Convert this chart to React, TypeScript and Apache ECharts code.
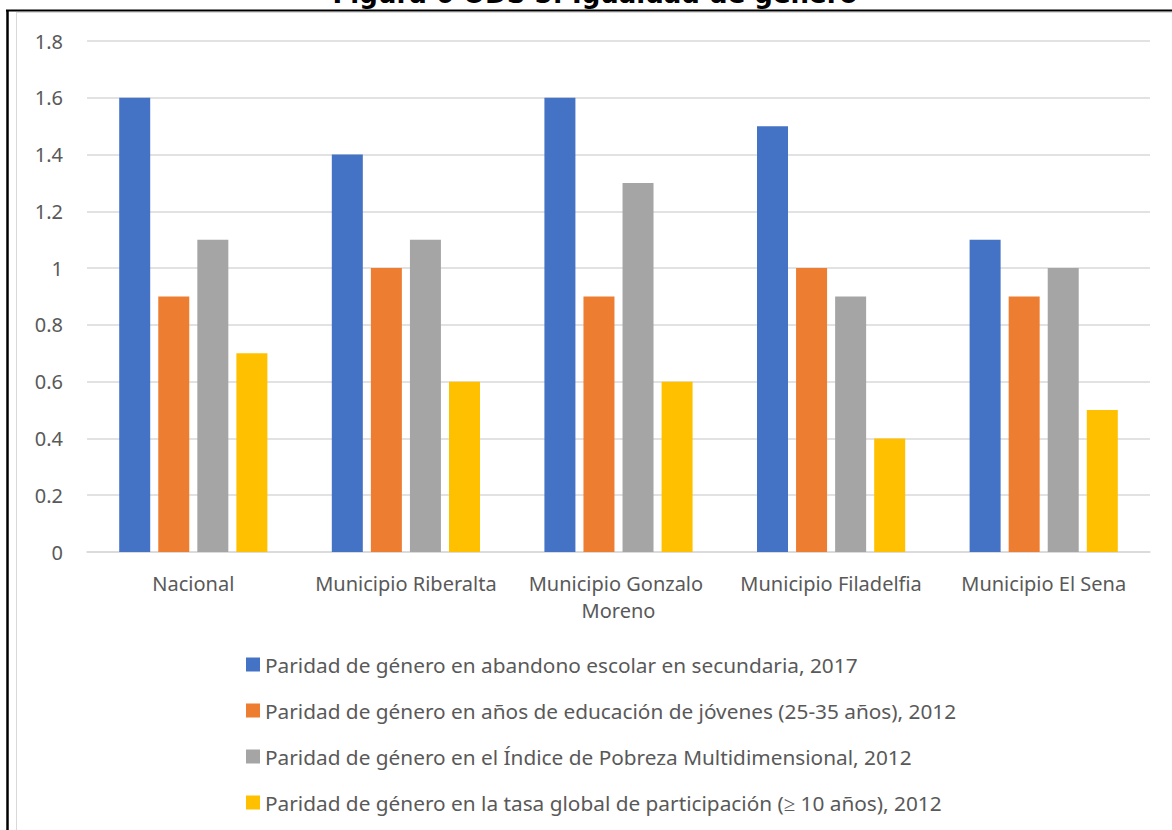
import React, { useEffect, useRef } from "react";
import * as echarts from "echarts";

const categories = [
  "Nacional",
  "Municipio Riberalta",
  "Municipio Gonzalo Moreno",
  "Municipio Filadelfia",
  "Municipio El Sena",
];
const seriesNames = [
  "Paridad de género en abandono escolar en secundaria, 2017",
  "Paridad de género en años de educación de jóvenes (25-35 años), 2012",
  "Paridad de género en el Índice de Pobreza Multidimensional, 2012",
  "Paridad de género en la tasa global de participación (≥ 10 años), 2012",
];
const abandono = [1.6, 1.4, 1.6, 1.5, 1.1];
const educacion = [0.9, 1.0, 0.9, 1.0, 0.9];
const pobreza = [1.1, 1.1, 1.3, 0.9, 1.0];
const participacion = [0.7, 0.6, 0.6, 0.4, 0.5];
const colors = ["#4472C4", "#ED7D31", "#A5A5A5", "#FFC000"];
const titleText = "Figura 6 ODS 5: Igualdad de género";

export default function App() {
  const ref = useRef<HTMLDivElement>(null);
  useEffect(() => {
    if (!ref.current) return;
    const chart = echarts.init(ref.current, null, { renderer: "svg" });
    const values = [abandono, educacion, pobreza, participacion];
    const font = "Noto Sans";
    chart.setOption({
      animation: false,
      backgroundColor: "#ffffff",
      graphic: [
        {
          type: "text",
          x: 595,
          y: -6,
          style: {
            text: titleText,
            fontFamily: "DejaVu Sans",
            fontWeight: "bold",
            fontSize: 26,
            fill: "#000000",
            align: "center",
            verticalAlign: "middle",
          },
        },
        {
          type: "line",
          shape: { x1: 16.5, y1: 12.5, x2: 1172, y2: 12.5 },
          style: { stroke: "#d9d9d9", lineWidth: 1 },
        },
        {
          type: "line",
          shape: { x1: 16.5, y1: 12, x2: 16.5, y2: 830 },
          style: { stroke: "#d9d9d9", lineWidth: 1 },
        },
        {
          type: "line",
          shape: { x1: 6, y1: 10.5, x2: 1172, y2: 10.5 },
          style: { stroke: "#000000", lineWidth: 2 },
        },
        {
          type: "line",
          shape: { x1: 7.5, y1: 10, x2: 7.5, y2: 830 },
          style: { stroke: "#000000", lineWidth: 2.5 },
        },
      ],
      legend: {
        orient: "vertical",
        left: 246,
        top: 654,
        padding: 0,
        itemWidth: 14,
        itemHeight: 14,
        itemGap: 25,
        icon: "rect",
        data: seriesNames,
        textStyle: {
          fontFamily: font,
          fontSize: 20.8,
          lineHeight: 20,
          color: "#595959",
        },
      },
      grid: { left: 87, right: 22, top: 41, bottom: 278 },
      xAxis: {
        type: "category",
        data: categories,
        axisLine: { show: true, lineStyle: { color: "#d9d9d9", width: 1.5 } },
        axisTick: { show: false },
        axisLabel: {
          fontFamily: font,
          fontSize: 20,
          lineHeight: 27,
          color: "#595959",
          margin: 18,
          width: 205,
          overflow: "break",
          interval: 0,
        },
      },
      yAxis: {
        type: "value",
        min: 0,
        max: 1.8,
        interval: 0.2,
        axisLine: { show: false },
        axisTick: { show: false },
        splitLine: { lineStyle: { color: "#d9d9d9", width: 1.5 } },
        axisLabel: {
          fontFamily: font,
          fontSize: 20,
          color: "#595959",
          margin: 24,
          formatter: (v: number) => String(Math.round(v * 10) / 10),
        },
      },
      series: seriesNames.map((name, i) => ({
        name,
        type: "bar",
        data: values[i],
        barWidth: 31,
        barGap: "26%",
        itemStyle: { color: colors[i] },
      })),
    });
    return () => chart.dispose();
  }, []);
  return (
    <div
      ref={ref}
      style={{ position: "fixed", left: 0, top: 0, width: 1172, height: 830 }}
    />
  );
}
